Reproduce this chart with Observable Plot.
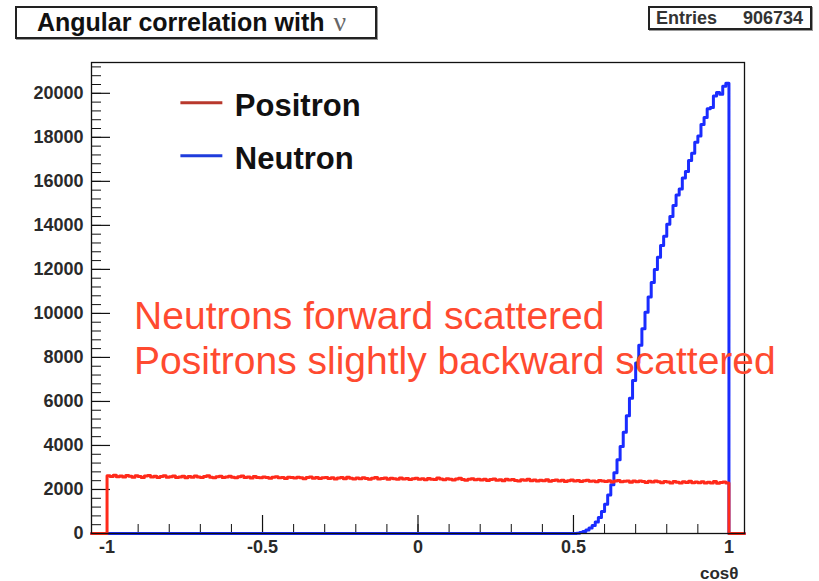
<!DOCTYPE html>
<html>
<head>
<meta charset="utf-8">
<script src="https://cdn.jsdelivr.net/npm/d3@7"></script>
<script src="https://cdn.jsdelivr.net/npm/@observablehq/plot@0.6"></script>
<style>
  html, body { margin: 0; padding: 0; background: #fff; }
  #wrap { position: relative; width: 819px; height: 581px; overflow: hidden; font-family: "Liberation Sans", Arial, sans-serif; }
  .pave { position: absolute; background: #fff; border: 2px solid #222; box-shadow: 1px 1px 0 #999; box-sizing: border-box; }
  #title { left: 15px; top: 6px; width: 362px; height: 33px; font-weight: bold; font-size: 25px; color: #111; padding-left: 20px; line-height: 28px; white-space: nowrap; }
  #title .nu { font-family: "Liberation Serif", serif; font-weight: normal; font-size: 28px; color: #666; margin-left: 2px; }
  #stats { left: 648px; top: 6px; width: 164px; height: 24px; font-weight: bold; font-size: 18px; color: #333; line-height: 20px; }
  #stats .k { position: absolute; left: 6px; }
  #stats .v { position: absolute; right: 7px; }
  #chart { position: absolute; left: 0; top: 0; }
</style>
</head>
<body>
<div id="wrap">
  <div id="chart"></div>
  <div class="pave" id="title">Angular correlation with <span class="nu">ν</span></div>
  <div class="pave" id="stats"><span class="k">Entries</span><span class="v">906734</span></div>
</div>
<script>
// Histogram binning: 200 bins of width 0.01 on [-1, 1]
const binLow = -1;
const binWidth = 0.01;

// Positron counts per bin, cos(theta) from -1 to 1
const positron = [
  2620, 2590, 2650, 2580, 2610, 2570, 2640, 2600, 2560, 2620,
  2590, 2550, 2610, 2630, 2570, 2600, 2540, 2590, 2620, 2560,
  2580, 2610, 2550, 2570, 2600, 2530, 2590, 2560, 2610, 2570,
  2540, 2590, 2620, 2560, 2530, 2580, 2600, 2550, 2570, 2600,
  2560, 2530, 2580, 2610, 2540, 2570, 2520, 2590, 2550, 2530,
  2570, 2540, 2510, 2560, 2580, 2530, 2550, 2500, 2560, 2540,
  2520, 2560, 2530, 2490, 2550, 2570, 2510, 2540, 2500, 2530,
  2550, 2500, 2530, 2480, 2520, 2540, 2490, 2560, 2510, 2480,
  2520, 2490, 2530, 2500, 2470, 2510, 2540, 2480, 2500, 2520,
  2470, 2510, 2490, 2460, 2520, 2480, 2500, 2450, 2490, 2510,
  2460, 2490, 2440, 2500, 2470, 2450, 2520, 2480, 2440, 2490,
  2470, 2430, 2480, 2510, 2450, 2420, 2470, 2490, 2440, 2460,
  2430, 2470, 2410, 2450, 2480, 2420, 2440, 2400, 2460, 2430,
  2450, 2410, 2380, 2440, 2420, 2460, 2400, 2430, 2390, 2420,
  2400, 2440, 2370, 2410, 2430, 2380, 2420, 2360, 2400, 2430,
  2380, 2410, 2360, 2400, 2420, 2370, 2390, 2350, 2410, 2380,
  2360, 2400, 2340, 2380, 2410, 2350, 2370, 2390, 2330, 2380,
  2350, 2390, 2360, 2320, 2370, 2340, 2380, 2350, 2310, 2360,
  2340, 2300, 2360, 2330, 2290, 2350, 2320, 2370, 2310, 2340,
  2310, 2350, 2290, 2330, 2300, 2360, 2280, 2320, 2340, 2300
];

// Neutron counts per bin for cos(theta) in [0.5, 1]; empty below 0.5
const neutronLow = 0.5;
const neutron = [
  0, 10, 40, 90, 160, 250, 360, 520, 730, 1000,
  1330, 1750, 2220, 2760, 3350, 3950, 4600, 5350, 6150, 6950,
  7750, 8550, 9300, 10050, 10750, 11400, 12000, 12550, 13080, 13500,
  14050, 14400, 14900, 15380, 15650, 16150, 16450, 16950, 17280, 17780,
  18060, 18580, 18900, 19300, 19350, 19880, 20040, 19960, 20320, 20460
];

const xMajor = [-1, -0.5, 0, 0.5, 1];
const xMajorLabels = ["-1", "-0.5", "0", "0.5", "1"];
const yMajor = [0, 2000, 4000, 6000, 8000, 10000, 12000, 14000, 16000, 18000, 20000];
const xMinor = d3.range(-1, 1.0001, 0.1).map(v => +v.toFixed(2));
const yMinor = d3.range(0, 21400, 400);

const xDomain = [-1.05, 1.05];
const yDomain = [0, 21400];

const series = [
  {name: "Neutron", color: "#1a2cff", legend: "#1f3cdc", legendY: 17166},
  {name: "Positron", color: "#ff2a1a", legend: "#b8382c", legendY: 19573}
];
const legendX = [-0.7625, -0.6276, -0.589];

const notes = ["Neutrons forward scattered", "Positrons slightly backward scattered"];

// Outline of a histogram as step-after points, closed to zero at both ends
function outline(counts, low) {
  const pts = [{x: xDomain[0], y: 0}];
  counts.forEach((c, i) => pts.push({x: low + i * binWidth, y: c}));
  const high = low + counts.length * binWidth;
  pts.push({x: high, y: 0});
  pts.push({x: xDomain[1], y: 0});
  return pts;
}

const W = 819, H = 581;
const mL = 91, mR = 75, mT = 62, mB = 48;
const frameW = W - mL - mR, frameH = H - mT - mB;
const ink = "#111";
const labelInk = "#2a2a2a";

const chart = Plot.plot({
  width: W, height: H,
  marginLeft: mL, marginRight: mR, marginTop: mT, marginBottom: mB,
  x: {domain: xDomain},
  y: {domain: yDomain},
  style: {fontFamily: "'Liberation Sans', Arial, sans-serif", background: "white", overflow: "visible"},
  marks: [
    // inward ticks in the ROOT style
    Plot.tickY(yMinor, {y: d => d, stroke: ink, strokeWidth: 1, insetRight: frameW - 10}),
    Plot.tickY(yMajor, {y: d => d, stroke: ink, strokeWidth: 1.2, insetRight: frameW - 19}),
    Plot.tickX(xMinor, {x: d => d, stroke: ink, strokeWidth: 1, insetTop: frameH - 9}),
    Plot.tickX(xMajor, {x: d => d, stroke: ink, strokeWidth: 1.2, insetTop: frameH - 18}),
    Plot.axisY(yMajor, {tickSize: 0, tickPadding: 8, fontSize: 18, fontWeight: "bold", fill: labelInk, label: null,
      tickFormat: d => String(d)}),
    Plot.axisX(xMajor, {tickSize: 0, tickPadding: 7, fontSize: 18, fontWeight: "bold", fill: labelInk, label: null,
      tickFormat: d => xMajorLabels[xMajor.indexOf(d)]}),
    Plot.text(["cosθ"], {frameAnchor: "bottom-right", dx: -6, dy: 45, fontSize: 17, fontWeight: "bold", fill: labelInk, textAnchor: "end", lineAnchor: "bottom"}),
    // histograms
    Plot.line(outline(neutron, neutronLow), {x: "x", y: "y", curve: "step-after", stroke: series[0].color, strokeWidth: 3}),
    Plot.line(outline(positron, binLow), {x: "x", y: "y", curve: "step-after", stroke: series[1].color, strokeWidth: 3}),
    Plot.frame({stroke: ink, strokeWidth: 1.3}),
    // legend
    Plot.ruleY(series, {y: "legendY", x1: legendX[0], x2: legendX[1], stroke: "legend", strokeWidth: 3}),
    Plot.text(series, {x: legendX[2], y: "legendY", text: "name", dy: 3, textAnchor: "start", lineAnchor: "middle", fontSize: 31, fontWeight: "bold", fill: "#111"}),
    // annotation
    Plot.text(notes, {
      x: -0.913, y: [9850, 7830], textAnchor: "start", lineAnchor: "middle", fontSize: 39, fill: "#ff4a30"
    })
  ]
});
document.getElementById("chart").appendChild(chart);
</script>
</body>
</html>
